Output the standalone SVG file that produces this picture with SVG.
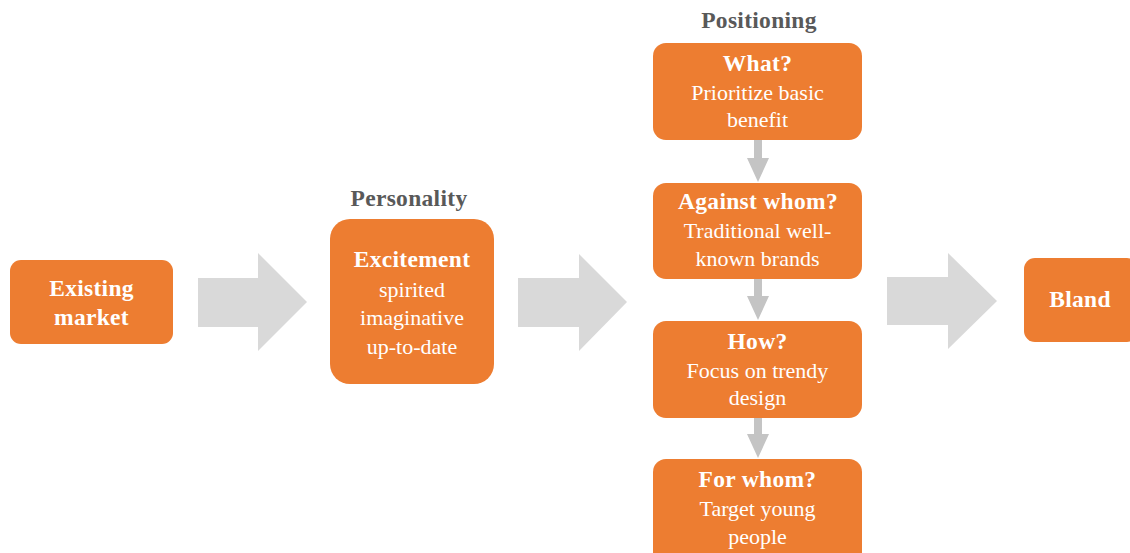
<svg xmlns="http://www.w3.org/2000/svg" width="1130" height="553" viewBox="0 0 1130 553">
<style>
.box{fill:#ED7D31;}
.big{fill:#D9D9D9;}
.small{fill:#C4C4C4;}
text{font-family:"Liberation Serif","Times New Roman",serif;text-anchor:middle;}
.t{fill:#FFFFFF;font-size:22px;}
.b{font-weight:bold;font-size:23.5px;letter-spacing:0.3px;}
.h{fill:#595959;font-size:23.5px;font-weight:bold;letter-spacing:0.3px;}
</style>
<rect width="1130" height="553" fill="#FFFFFF"/>
<g id="connectors">
<polygon class="big" points="198,278 258,278 258,253 307,302 258,351 258,327 198,327"/>
<polygon class="big" points="518,278 579,278 579,254 627,302 579,351 579,327 518,327"/>
<polygon class="big" points="887,277 948,277 948,253 997,301 948,349 948,325 887,325"/>
<polygon class="small" points="754,140 762,140 762,158 769,158 758,182 747,158 754,158"/>
<polygon class="small" points="754,279 762,279 762,296 769,296 758,320 747,296 754,296"/>
<polygon class="small" points="754,418 762,418 762,434 769,434 758,458 747,434 754,434"/>
</g>
<g id="existing">
<rect class="box" x="10" y="260" width="163" height="84" rx="11"/>
<text class="t b" x="91.5" y="296">Existing</text>
<text class="t b" x="91.5" y="325">market</text>
</g>
<g id="personality">
<text class="h" x="409" y="206">Personality</text>
<rect class="box" x="330" y="219" width="164" height="165" rx="20"/>
<text class="t b" x="412" y="267">Excitement</text>
<text class="t" x="412" y="297">spirited</text>
<text class="t" x="412" y="325">imaginative</text>
<text class="t" x="412" y="354">up-to-date</text>
</g>
<g id="positioning-label">
<text class="h" x="759" y="28">Positioning</text>
</g>
<g id="what">
<rect class="box" x="653" y="43" width="209" height="97" rx="13"/>
<text class="t b" x="757.5" y="71">What?</text>
<text class="t" x="757.5" y="100">Prioritize basic</text>
<text class="t" x="757.5" y="127">benefit</text>
</g>
<g id="against">
<rect class="box" x="653" y="183" width="209" height="96" rx="13"/>
<text class="t b" x="758" y="209">Against whom?</text>
<text class="t" x="757.5" y="238">Traditional well-</text>
<text class="t" x="757.5" y="266">known brands</text>
</g>
<g id="how">
<rect class="box" x="653" y="321" width="209" height="97" rx="13"/>
<text class="t b" x="757.5" y="349">How?</text>
<text class="t" x="757.5" y="378">Focus on trendy</text>
<text class="t" x="757.5" y="405">design</text>
</g>
<g id="forwhom">
<rect class="box" x="653" y="459" width="209" height="110" rx="13"/>
<text class="t b" x="757.5" y="487">For whom?</text>
<text class="t" x="757.5" y="516">Target young</text>
<text class="t" x="757.5" y="544">people</text>
</g>
<g id="bland">
<rect class="box" x="1024" y="258" width="114" height="84" rx="11"/>
<text class="t b" x="1080" y="307">Bland</text>
</g>
</svg>
